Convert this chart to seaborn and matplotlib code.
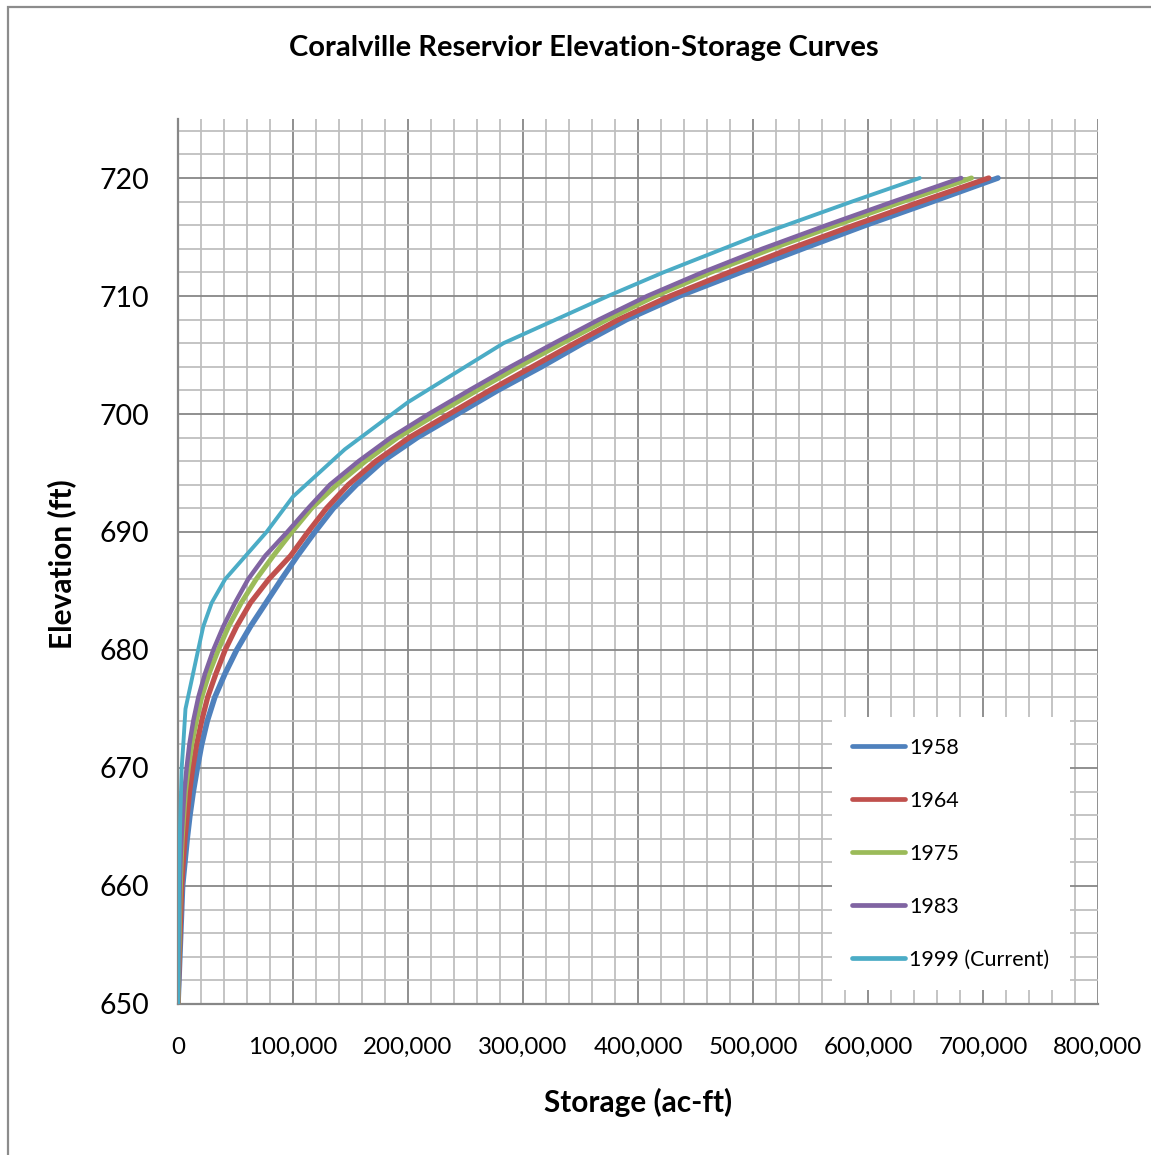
import matplotlib
matplotlib.use("Agg")
import matplotlib.pyplot as plt
from matplotlib.ticker import MultipleLocator, FuncFormatter
from matplotlib.patches import Rectangle
import seaborn as sns

# Elevation (ft) and storage (ac-ft) for each survey year
elev_1958 = [650, 652, 654, 656, 658, 660, 662, 664, 666, 668, 670, 672, 674, 676, 678,
             680, 682, 684, 686, 688, 690, 692, 694, 696, 698, 700, 702, 704, 706, 708,
             710, 712, 714, 716, 718, 720]
stor_1958 = [0, 800, 1600, 2400, 3200, 4000, 6000, 8000, 10400, 13300, 16800, 20600, 25500,
             32000, 40900, 51000, 63000, 76500, 90000, 104000, 119000, 135000, 155000,
             178000, 208000, 243000, 278000, 316000, 352000, 390000, 436000, 489000,
             543000, 598000, 656000, 713000]

elev_1964 = [650, 652, 654, 656, 658, 660, 662, 664, 666, 668, 670, 672, 674, 676, 678,
             680, 682, 684, 686, 688, 690, 692, 694, 696, 698, 700, 702, 704, 706, 708,
             710, 712, 714, 716, 718, 720]
stor_1964 = [0, 500, 1100, 1800, 2500, 3200, 4500, 6000, 8000, 10000, 12800, 16200, 20600,
             25800, 33000, 41000, 51000, 63000, 79000, 98000, 113000, 129000, 148000,
             172000, 201000, 236000, 271000, 308000, 345000, 383000, 428000, 479000,
             532000, 588000, 646000, 705000]

elev_1975 = [650, 652, 654, 656, 658, 660, 662, 664, 666, 668, 670, 672, 674, 676, 678,
             680, 682, 684, 686, 688, 690, 692, 694, 696, 698, 700, 702, 704, 706, 708,
             710, 712, 714, 716, 718, 720]
stor_1975 = [0, 300, 700, 1100, 1500, 2000, 2700, 3600, 5000, 6500, 9000, 11900, 16000,
             20600, 27000, 35000, 44000, 55000, 68000, 83000, 99000, 116000, 138000,
             163000, 191000, 225000, 260000, 296000, 334000, 373000, 415000, 463000,
             516000, 572000, 630000, 690000]

elev_1983 = [650, 652, 654, 656, 658, 660, 662, 664, 666, 668, 670, 672, 674, 676, 678,
             680, 682, 684, 686, 688, 690, 692, 694, 696, 698, 700, 702, 704, 706, 708,
             710, 712, 714, 716, 718, 720]
stor_1983 = [0, 200, 500, 800, 1100, 1500, 2100, 3000, 4200, 5500, 7500, 9900, 13300,
             17700, 23500, 30700, 39400, 49600, 61000, 76000, 95000, 113000, 132000,
             157000, 185000, 218000, 253000, 289000, 327000, 366000, 408000, 456000,
             508000, 564000, 622000, 681000]

elev_1999 = [650, 655, 660, 665, 670, 672, 675, 680, 682, 684, 686, 690, 693, 697, 701,
             706, 710, 712, 715, 718, 720]
stor_1999 = [0, 500, 1000, 1800, 3200, 4600, 6500, 17500, 22000, 29300, 41000, 77000,
             100000, 145000, 200000, 283000, 374000, 422000, 500000, 586000, 645000]

survey_labels = ["1958", "1964", "1975", "1983", "1999 (Current)"]
survey_elev = [elev_1958, elev_1964, elev_1975, elev_1983, elev_1999]
survey_stor = [stor_1958, stor_1964, stor_1975, stor_1983, stor_1999]
survey_colors = ["#4F81BD", "#C0504D", "#9BBB59", "#8064A2", "#4BACC6"]
survey_widths = [4.0, 3.8, 3.6, 3.2, 2.8]

x_ticks = [0, 100000, 200000, 300000, 400000, 500000, 600000, 700000, 800000]
y_ticks = [650, 660, 670, 680, 690, 700, 710, 720]

sns.set_theme(style="white")
plt.rcParams["font.family"] = ["Lato", "DejaVu Sans"]

W, H = 1151, 1155
fig = plt.figure(figsize=(W / 100, H / 100), dpi=100)
fig.patch.set_facecolor("white")
ax = fig.add_axes([178 / W, 1 - 1004 / H, 920 / W, 885 / H])

for lab, el, st, col, lw in zip(survey_labels, survey_elev, survey_stor,
                                survey_colors, survey_widths):
    sns.lineplot(x=st, y=el, ax=ax, color=col, linewidth=lw, label=lab,
                 sort=False, estimator=None, solid_capstyle="round",
                 solid_joinstyle="round", zorder=3)

ax.set_xlim(0, 800000)
ax.set_ylim(650, 725)
ax.set_xticks(x_ticks)
ax.set_yticks(y_ticks)
ax.xaxis.set_minor_locator(MultipleLocator(20000))
ax.yaxis.set_minor_locator(MultipleLocator(2))
ax.xaxis.set_major_formatter(FuncFormatter(lambda v, p: f"{int(v):,}"))

ax.set_axisbelow(True)
ax.grid(which="minor", color="#BFBFBF", linewidth=1.3, zorder=0)
ax.grid(which="major", color="#878787", linewidth=1.3, zorder=1)

for side in ["top", "right"]:
    ax.spines[side].set_visible(False)
for side in ["left", "bottom"]:
    ax.spines[side].set_color("#878787")
    ax.spines[side].set_linewidth(1.6)

ax.tick_params(axis="x", which="major", direction="out", length=5.5, width=1.3,
               color="#878787", labelsize=17.4, labelcolor="black", pad=18.5)
ax.tick_params(axis="x", which="minor", length=0)
ax.tick_params(axis="y", which="both", length=0, labelsize=20.5,
               labelcolor="black", pad=21)

ax.set_xlabel("Storage (ac-ft)", fontsize=21.4, fontweight="bold", color="black",
              va="center")
ax.xaxis.set_label_coords(0.5, (1004 - 1102) / 885)
ax.set_ylabel("Elevation (ft)", fontsize=21.5, fontweight="bold", color="black",
              va="center")
ax.yaxis.set_label_coords((62 - 178) / 920, (1004 - 564) / 885)

fig.text(584 / W, 1 - 48 / H, "Coralville Reservior Elevation-Storage Curves",
         ha="center", va="center", fontsize=21, fontweight="bold", color="black")

leg = ax.legend(loc="lower right", bbox_to_anchor=((1070 - 178) / 920, (1004 - 990) / 885),
                frameon=True, facecolor="white", edgecolor="none", framealpha=1,
                fancybox=False, fontsize=15.5, labelspacing=1.53, handlelength=2.45,
                handletextpad=0.2, borderpad=0.95, borderaxespad=0)
for line in leg.get_lines():
    line.set_linewidth(3.4)
    line.set_solid_capstyle("round")
for t in leg.get_texts():
    t.set_color("black")

# outer chart frame
fig.add_artist(Rectangle((8 / W, -0.05), 1.0, 1 - 7 / H + 0.05,
                         transform=fig.transFigure, fill=False,
                         edgecolor="#8C8C8C", linewidth=1.6))

fig.savefig("out.png", dpi=100)
